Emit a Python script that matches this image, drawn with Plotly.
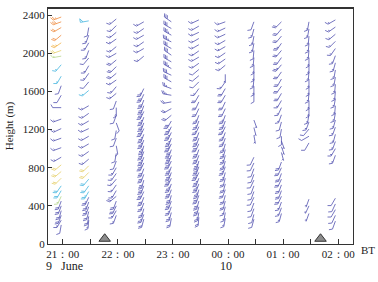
import numpy as np
import plotly.graph_objects as go

# ---------------- data ----------------
TIMES = [20.97, 21.47, 21.97, 22.47, 22.97, 23.47, 23.95, 24.47, 24.97, 25.47, 25.95]

H1 = [2380,2330,2270,2190,2110,2030,1970,1880,1760,1660,1560,1430,1310,1210,1110,1010,910,830,760,690,610,560,500,450,400,350,300,250,200]
D1 = [250,250,240,230,235,250,260,220,210,200,210,270,250,245,250,250,240,230,230,225,215,210,205,200,200,195,200,210,190]
S1 = [10,12,8,8,10,8,6,6,6,4,4,4,6,6,6,6,6,8,8,8,8,8,6,8,8,8,8,6,4]
C1 = "ooooaygccbbbbbbbbyyyccgbbbbbb"

H2 = [2340,2270,2190,2110,2030,1950,1870,1790,1700,1610,1450,1370,1290,1210,1130,1050,970,890,820,750,680,610,550,490,440,390,340,290,250]
D2 = [260,190,200,210,200,220,210,215,220,230,240,235,240,245,240,240,235,230,225,225,220,215,210,205,200,200,195,190,185]
S2 = [20,4,6,6,6,4,6,6,4,6,6,6,6,6,6,6,6,6,8,8,8,8,10,10,10,10,8,8,6]
C2 = "cbbbbbbbbcbbbbbbbbyycccbbbbbb"

H3 = [2360,2290,2220,2150,2070,2000,1930,1860,1790,1720,1650,1580,1500,1430,1350,1270,1190,1110,1030,950,870,800,740,680,620,560,500,450,400,350,300]
D3 = [230,225,230,235,230,240,230,225,230,235,220,230,200,180,200,160,190,200,170,190,200,210,215,220,215,210,230,200,205,210,200]
S3 = [6,6,6,6,6,6,8,8,8,6,6,6,4,6,4,4,4,4,4,4,4,6,6,6,6,6,8,8,8,6,6]

H4 = [2330,2260,2190,2120,2050,1970,1630,1570,1510,1450,1390,1330,1270,1210,1150,1090,1030,970,910,850,790,730,670,610,550,490,430,370,310,260]
D4 = [240,235,240,235,240,230,205,205,200,200,205,200,200,205,200,200,195,200,200,205,200,200,195,200,205,200,200,195,200,195]
S4 = [6,6,6,6,6,6,10,12,12,12,14,14,14,14,14,14,14,14,14,14,12,12,12,12,12,12,10,10,10,8]

H5 = [2330,2260,2190,2120,2050,1980,1910,1840,1770,1700,1630,1560,1490,1420,1350,1290,1230,1170,1110,1050,990,930,870,810,750,690,630,570,510,450,390,330,270]
D5 = [305,300,300,295,300,305,300,300,295,300,290,280,260,240,230,210,205,205,200,205,200,200,205,200,200,205,200,200,195,200,200,195,190]
S5 = [12,12,14,14,12,12,12,14,12,12,10,10,8,8,8,12,14,14,14,14,16,16,14,14,14,14,14,12,12,12,10,10,8]

H6 = [2350,2285,2220,2155,2090,2025,1960,1895,1830,1765,1700,1630,1560,1490,1420,1350,1290,1230,1170,1110,1050,990,930,870,810,750,690,630,570,510,450,390,330,280]
D6 = [245,240,245,240,240,235,240,235,230,230,225,215,210,205,205,200,200,205,200,200,205,200,200,195,200,205,200,200,195,200,195,195,190,185]
S6 = [6,6,6,6,6,6,6,6,4,4,4,6,8,8,8,10,10,10,12,12,12,12,12,14,14,14,14,14,14,12,12,12,10,8]

H7 = [2330,2265,2200,2135,2070,2005,1940,1875,1780,1700,1630,1560,1490,1420,1350,1290,1230,1170,1110,1050,990,930,870,810,750,690,630,570,510,450,390,330,270]
D7 = [250,245,245,240,240,235,235,230,180,215,210,210,205,205,200,200,205,200,200,195,195,195,195,200,195,195,195,200,195,195,195,190,190]
S7 = [6,6,6,6,6,6,6,6,2,6,8,8,8,8,10,10,10,10,10,10,10,10,10,10,10,8,8,8,8,8,6,6,6]

H8 = [2330,2255,2180,2105,2030,1955,1880,1805,1730,1655,1580,1300,1220,1140,910,850,790,730,670,610,550,490,430,370,310,260]
D8 = [200,195,190,190,185,185,180,180,185,180,180,160,165,170,205,205,200,200,205,200,200,205,200,200,195,195]
S8 = [4,6,6,6,4,6,6,6,6,6,4,2,2,2,4,4,4,4,4,4,4,4,4,4,4,4]

H9 = [2330,2255,2180,2105,2030,1955,1880,1805,1730,1655,1580,1505,1430,1355,1280,1205,1130,1080,1020,960,860,800,740,680,620,560,500,440,380,320]
D9 = [225,220,220,215,220,215,220,215,210,215,210,210,205,200,195,190,180,160,160,165,200,205,200,205,200,200,205,200,200,195]
S9 = [8,8,8,10,8,8,10,8,8,8,8,6,6,6,4,4,4,2,2,2,8,8,8,8,8,8,8,6,6,6]

H10 = [2330,2255,2180,2105,2030,1955,1880,1805,1730,1655,1580,1505,1430,1355,1280,1205,1130,1060,470,400,320]
D10 = [190,190,185,185,185,180,180,185,180,180,185,180,180,190,200,220,240,210,200,205,200]
S10 = [6,6,6,6,6,6,6,6,6,6,6,6,6,6,6,4,4,4,2,2,2]

H11 = [2350,2275,2200,2125,2050,1975,1900,1825,1750,1675,1600,1525,1450,1375,1300,1225,1150,1075,1000,930,480,420,360,300,240]
D11 = [240,235,230,225,215,200,195,190,190,185,185,190,185,190,195,200,195,200,210,200,210,205,210,205,200]
S11 = [6,6,6,6,6,6,6,6,6,6,6,6,6,6,6,6,6,6,6,6,4,4,4,4,4]

MARK_TIMES = [21.76, 25.68]
XTICK_VALS = [21, 22, 23, 24, 25, 26]
XTICK_TEXT = ["21：00", "22：00", "23：00", "00：00", "01：00", "02：00"]
YTICK_VALS = [0, 400, 800, 1200, 1600, 2000, 2400]

COLORS = {"b": "#5353b0", "o": "#ef8a3e", "a": "#f1b24a", "y": "#e6cf6a",
          "g": "#b5d68c", "c": "#46b6e0"}

# ---------------- geometry ----------------
W, HH = 378, 282
ML, MR, MT, MB = 48, 25, 8, 38
X0, X1 = 20.73, 26.27
Y0, Y1 = 0, 2475
KX = (W - ML - MR) / (X1 - X0)
KY = (HH - MT - MB) / (Y1 - Y0)

L_STAFF, F_LEN, F_STEP = 8.5, 3.6, 1.7


def barb_segments(t, h, d, s):
    r = np.deg2rad(d)
    ux, uy = np.sin(r), np.cos(r)
    px, py = uy, -ux
    pts = [[(0, 0), (ux * L_STAFF, uy * L_STAFF)]]
    nflag = int(s // 20)
    rem = s - 20 * nflag
    nfull = int(rem // 4)
    half = (rem % 4) >= 2
    pos = L_STAFF
    for _ in range(nflag):
        a = (ux * pos, uy * pos)
        b = (ux * (pos - F_STEP * 1.6), uy * (pos - F_STEP * 1.6))
        c = (a[0] + F_LEN * px, a[1] + F_LEN * py)
        pts.append([a, c, b])
        pos -= F_STEP * 2
    for _ in range(nfull):
        a = (ux * pos, uy * pos)
        c = (a[0] + F_LEN * (px * 0.87 + ux * 0.5), a[1] + F_LEN * (py * 0.87 + uy * 0.5))
        pts.append([a, c])
        pos -= F_STEP
    if half:
        if pos == L_STAFF:
            pos -= F_STEP
        a = (ux * pos, uy * pos)
        c = (a[0] + 0.5 * F_LEN * (px * 0.87 + ux * 0.5), a[1] + 0.5 * F_LEN * (py * 0.87 + uy * 0.5))
        pts.append([a, c])
    out = []
    for seg in pts:
        out.append([(t + dx / KX, h + dy / KY) for dx, dy in seg])
    return out


columns = [(H1, D1, S1, C1), (H2, D2, S2, C2), (H3, D3, S3, None), (H4, D4, S4, None),
           (H5, D5, S5, None), (H6, D6, S6, None), (H7, D7, S7, None), (H8, D8, S8, None),
           (H9, D9, S9, None), (H10, D10, S10, None), (H11, D11, S11, None)]

lines = {k: ([], []) for k in COLORS}
for t, (hs, ds, ss, cs) in zip(TIMES, columns):
    for i, (h, d, s) in enumerate(zip(hs, ds, ss)):
        key = cs[i] if cs else "b"
        for seg in barb_segments(t, h, d, s):
            for x, y in seg:
                lines[key][0].append(x)
                lines[key][1].append(y)
            lines[key][0].append(None)
            lines[key][1].append(None)

fig = go.Figure()
for key, (xs, ys) in lines.items():
    if xs:
        fig.add_trace(go.Scatter(x=xs, y=ys, mode="lines",
                                 line=dict(color=COLORS[key], width=0.8),
                                 hoverinfo="skip", showlegend=False))

fig.add_trace(go.Scatter(x=MARK_TIMES, y=[55, 55], mode="markers",
                         marker=dict(symbol="triangle-up", size=10, color="#8c8c8c",
                                     line=dict(color="#333333", width=1)),
                         cliponaxis=False, showlegend=False, hoverinfo="skip"))

FONT = "Liberation Serif, Times New Roman, serif"
minor_vals = [v + 0.5 for v in range(20, 27)]
fig.update_layout(
    width=W, height=HH, autosize=False,
    margin=dict(l=ML, r=MR, t=MT, b=MB),
    paper_bgcolor="white", plot_bgcolor="white",
    font=dict(family=FONT, size=11, color="#222"),
    xaxis=dict(range=[X0, X1], tickvals=XTICK_VALS, ticktext=XTICK_TEXT,
               ticks="inside", ticklen=5, tickcolor="#333", showgrid=False, zeroline=False,
               showline=True, linecolor="#333", linewidth=1.2, mirror=True,
               tickfont=dict(family=FONT, size=11),
               minor=dict(tickvals=minor_vals, ticks="inside", ticklen=5, tickcolor="#333")),
    yaxis=dict(range=[Y0, Y1], tickvals=YTICK_VALS, ticks="inside", ticklen=4,
               tickcolor="#333", showgrid=False, zeroline=False,
               showline=True, linecolor="#333", linewidth=1.2, mirror=True,
               tickfont=dict(family=FONT, size=11),
               title=dict(text="Height (m)", font=dict(family=FONT, size=11), standoff=6)),
)
fig.add_shape(type="line", xref="paper", yref="paper", x0=0, x1=1, y0=1, y1=1,
              line=dict(color="#333", width=2))
fig.add_annotation(x=(26.55 - X0) / (X1 - X0), y=0, xref="paper", yref="paper", text="BT",
                   showarrow=False, yshift=-14, xanchor="center",
                   font=dict(family=FONT, size=11))
fig.add_annotation(x=0, y=0, xref="paper", yref="paper", text="9&nbsp;&nbsp;&nbsp;June",
                   showarrow=False, yshift=-31, xanchor="left", xshift=-4,
                   font=dict(family=FONT, size=12))
fig.add_annotation(x=(24 - X0) / (X1 - X0), y=0, xref="paper", yref="paper", text="10",
                   showarrow=False, yshift=-31, xanchor="left", xshift=-10,
                   font=dict(family=FONT, size=12))

fig.write_html("out.html", post_script="document.body.style.margin='0';",
               config={"displayModeBar": False})
